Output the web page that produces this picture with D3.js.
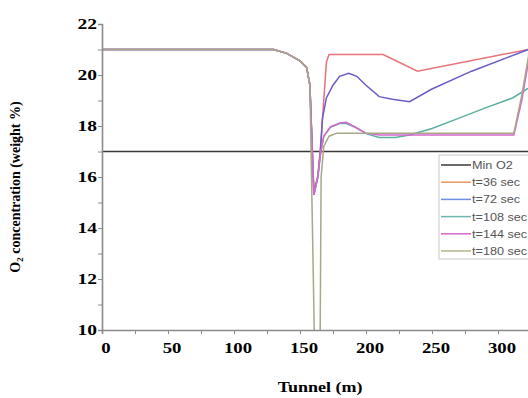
<!DOCTYPE html>
<html>
<head>
<meta charset="utf-8">
<script src="https://cdn.jsdelivr.net/npm/d3@7"></script>
<style>
  body { margin: 0; background: #fff; }
  svg { display: block; }
</style>
</head>
<body>
<div id="chart"></div>
<script>
// tunnel position (m) and O2 weight %
const preDip = [[0, 21], [130, 21], [140, 20.85], [150, 20.55], [155, 20.3], [157.5, 19.6]]

const t36 = [...preDip, [160.5, 15.5], [163.5, 16], [166, 17.5], [168, 19], [170, 20.5], [172, 20.8], [213, 20.8], [239, 20.15], [323, 21], [340, 21.3]]
const t72 = [...preDip, [160.5, 15.3], [163.5, 16], [165.5, 17], [167, 18.3], [170, 19.1], [175, 19.6], [180, 19.95], [187, 20.07], [193, 19.95], [200, 19.6], [210, 19.15], [220, 19.05], [233, 18.95], [250, 19.45], [280, 20.15], [323, 21], [340, 21.3]]
const t108 = [...preDip, [160.5, 15.3], [163.5, 16], [165.5, 16.9], [168, 17.6], [173, 17.95], [180, 18.1], [185, 18.1], [192, 17.95], [200, 17.7], [210, 17.55], [222, 17.55], [233, 17.65], [250, 17.9], [270, 18.3], [290, 18.7], [311, 19.1], [322, 19.45], [340, 19.9]]
const t144 = [...preDip, [160.5, 15.3], [163.5, 16], [165.5, 16.9], [168, 17.6], [173, 17.97], [180, 18.12], [185, 18.15], [192, 17.95], [200, 17.72], [210, 17.65], [312, 17.65], [318, 19], [323, 20.5], [326, 21], [340, 21.2]]
const t180 = [...preDip, [160.8, 10], [163, 7], [165.3, 10], [166, 16], [168, 17.2], [172, 17.6], [178, 17.72], [312, 17.72], [318, 19.2], [324, 21], [340, 21.2]]
const minO2 = [[0, 17], [350, 17]]

const seriesNames = ['Min O2', 't=36 sec', 't=72 sec', 't=108 sec', 't=144 sec', 't=180 sec']
const seriesData = [minO2, t36, t72, t108, t144, t180]
const lineColors = ['#3a3a3a', '#e8727a', '#6a5cc8', '#5bb0a0', '#d866cf', '#a8a886']
const swatchColors = ['#3a3a3a', '#eb9660', '#6f8fe0', '#6fb8b0', '#d866cf', '#b4b48a']

const xTicks = [0, 50, 100, 150, 200, 250, 300]
const yTicks = [10, 12, 14, 16, 18, 20, 22]

const width = 528
const height = 398
const margin = { top: 24, left: 102, bottom: 68 }

const xScale = d3.scaleLinear().domain([0, 350]).range([margin.left, margin.left + 350 * 1.32])
const yScale = d3.scaleLinear().domain([10, 22]).range([height - margin.bottom, margin.top])

const svg = d3.select('#chart').append('svg')
    .attr('width', width)
    .attr('height', height)

svg.append('defs').append('clipPath')
    .attr('id', 'plotClip')
    .append('rect')
    .attr('x', margin.left)
    .attr('y', margin.top)
    .attr('width', width - margin.left)
    .attr('height', yScale(10) - margin.top)

const line = d3.line()
    .x(d => xScale(d[0]))
    .y(d => yScale(d[1]))

const plot = svg.append('g').attr('clip-path', 'url(#plotClip)')

plot.selectAll('.series')
    .data(seriesData)
    .enter().append('path')
    .attr('class', 'series')
    .attr('d', line)
    .attr('fill', 'none')
    .attr('stroke', (d, i) => lineColors[i])
    .attr('stroke-width', (d, i) => i === 0 ? 1.6 : 1.5)

// axes
const axisColor = '#8a8a8a'
const xAxis = svg.append('g')
    .attr('transform', `translate(0,${yScale(10)})`)
    .call(d3.axisBottom(xScale).tickValues(d3.range(0, 351, 25)).tickSize(4).tickFormat(''))
xAxis.select('.domain').attr('stroke', axisColor).attr('stroke-width', 1.6)
xAxis.selectAll('line').attr('stroke', axisColor)

const yAxis = svg.append('g')
    .attr('transform', `translate(${margin.left},0)`)
    .call(d3.axisLeft(yScale).tickValues(d3.range(10, 22.1, 1)).tickSize(4).tickFormat(''))
yAxis.select('.domain').attr('stroke', axisColor).attr('stroke-width', 1.6)
yAxis.selectAll('line').attr('stroke', axisColor)

const labelFont = '"Liberation Serif", "Times New Roman", serif'

// the scanned labels are a bit wider than the font, so stretch them
svg.selectAll('.xlab')
    .data(xTicks)
    .enter().append('text')
    .attr('transform', d => `translate(${xScale(d) + 4},353) scale(1.25,1)`)
    .attr('text-anchor', 'middle')
    .style('font', `bold 15px ${labelFont}`)
    .text(d => d)

svg.selectAll('.ylab')
    .data(yTicks)
    .enter().append('text')
    .attr('transform', d => `translate(97,${yScale(d) + 5}) scale(1.3,1)`)
    .attr('text-anchor', 'end')
    .style('font', `bold 15px ${labelFont}`)
    .text(d => d)

svg.append('text')
    .attr('transform', 'translate(320,392) scale(1.2,1)')
    .attr('text-anchor', 'middle')
    .style('font', `bold 15px ${labelFont}`)
    .text('Tunnel (m)')

const yTitle = svg.append('text')
    .attr('transform', 'translate(20,187) rotate(-90)')
    .attr('text-anchor', 'middle')
    .style('font', `bold 14px ${labelFont}`)
yTitle.append('tspan').text('O')
yTitle.append('tspan').text('2').style('font-size', '9px').attr('dy', 3)
yTitle.append('tspan').text(' concentration (weight %)').attr('dy', -3)

// legend
const legend = svg.append('g').attr('transform', 'translate(439,155)')
legend.append('rect')
    .attr('width', 120)
    .attr('height', 104)
    .attr('fill', '#fff')
    .attr('stroke', '#c8c8c8')

legend.selectAll('.entry')
    .data(seriesNames)
    .enter().append('g')
    .attr('transform', (d, i) => `translate(0,${10 + i * 17.2})`)
    .each(function (d, i) {
        const g = d3.select(this)
        g.append('line')
            .attr('x1', 2).attr('x2', 32)
            .attr('stroke', swatchColors[i])
            .attr('stroke-width', 1.5)
        g.append('text')
            .attr('transform', 'translate(33,4) scale(1.15,1)')
            .style('font', '11px "Liberation Sans", Arial, sans-serif')
            .attr('fill', '#555')
            .text(d)
    })
</script>
</body>
</html>
